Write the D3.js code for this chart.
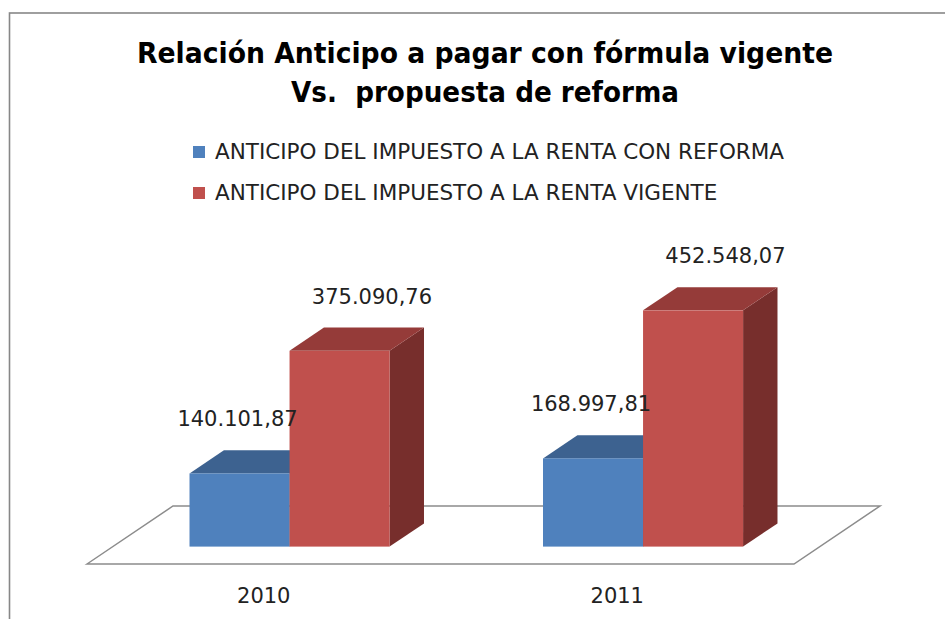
<!DOCTYPE html>
<html>
<head>
<meta charset="utf-8">
<script src="https://cdn.jsdelivr.net/npm/d3@7"></script>
<style>
  body { margin: 0; background: #fff; }
  svg { display: block; }
  text { font-family: "DejaVu Sans", sans-serif; fill: #222; white-space: pre; }
</style>
</head>
<body>
<svg id="chart" width="945" height="619"></svg>
<script>
var years = ["2010", "2011"];
var seriesNames = ["ANTICIPO DEL IMPUESTO A LA RENTA CON REFORMA", "ANTICIPO DEL IMPUESTO A LA RENTA VIGENTE"];
var reforma = [140101.87, 168997.81];
var vigente = [375090.76, 452548.07];
var valueLabels = [["140.101,87", "168.997,81"], ["375.090,76", "452.548,07"]];
var titleLines = ["Relación Anticipo a pagar con fórmula vigente", "Vs.  propuesta de reforma"];

var colors = [
	{front: "#4f81bd", top: "#3d6290", side: "#2f4c70"},
	{front: "#c0504d", top: "#953b39", side: "#772e2c"}
];

var svg = d3.select("#chart");

// chart frame (the right and bottom edges fall outside the window)
svg.append("rect")
	.attr("x", 9.5).attr("y", 13)
	.attr("width", 1000).attr("height", 700)
	.attr("fill", "none")
	.attr("stroke", "#878787")
	.attr("stroke-width", 1.6);

// title
var titleW = [696, 388];
svg.append("g").selectAll("text")
	.data(titleLines)
	.enter().append("text")
	.attr("x", 485)
	.attr("y", function(d, i) { return 63 + i * 39; })
	.attr("text-anchor", "middle")
	.attr("font-family", "'Open Sans', sans-serif")
	.attr("font-weight", "bold")
	.attr("font-size", 28)
	.attr("textLength", function(d, i) { return titleW[i]; })
	.attr("lengthAdjust", "spacingAndGlyphs")
	.style("fill", "#000")
	.text(function(d) { return d; });

// legend
var legend = svg.append("g").selectAll("g")
	.data(seriesNames)
	.enter().append("g")
	.attr("transform", function(d, i) { return "translate(193," + (146 + i * 41) + ")"; });

legend.append("rect")
	.attr("width", 12).attr("height", 12)
	.attr("fill", function(d, i) { return colors[i].front; });

legend.append("text")
	.attr("x", 22)
	.attr("y", 12.5)
	.attr("font-size", 21.5)
	.text(function(d) { return d; });

// pseudo 3d geometry
var floorFront = 564,
	depthDx = 86, depthDy = 58,
	barFront = 0.3, barBack = 0.7;

var x0 = d3.scaleBand()
	.domain(years)
	.range([87, 794])
	.paddingInner(0.434)
	.paddingOuter(0.217);

var x1 = d3.scaleBand()
	.domain([0, 1])
	.range([0, x0.bandwidth()]);

var y = d3.scaleLinear()
	.domain([0, 500000])
	.range([0, 261]);

// floor
var fl = x0.range();
svg.append("path")
	.attr("d", "M" + fl[0] + "," + floorFront +
		"L" + (fl[0] + depthDx) + "," + (floorFront - depthDy) +
		"L" + (fl[1] + depthDx) + "," + (floorFront - depthDy) +
		"L" + fl[1] + "," + floorFront + "Z")
	.attr("fill", "#fff")
	.attr("stroke", "#8c8c8c")
	.attr("stroke-width", 1.5);

var baseY = floorFront - depthDy * barFront,
	shiftX = depthDx * barFront,
	ddx = depthDx * (barBack - barFront),
	ddy = depthDy * (barBack - barFront);

var bars = [];
[reforma, vigente].forEach(function(vals, s) {
	vals.forEach(function(v, k) {
		bars.push({s: s, k: k, value: v, label: valueLabels[s][k]});
	});
});
// draw back to front, left to right
bars.sort(function(a, b) { return (a.k - b.k) || (a.s - b.s); });

var barG = svg.append("g").selectAll("g")
	.data(bars)
	.enter().append("g");

var geom = function(d) {
	var xl = x0(years[d.k]) + x1(d.s) + shiftX,
		xr = xl + x1.bandwidth(),
		yt = baseY - y(d.value);
	return {xl: xl, xr: xr, yt: yt};
};

barG.append("path")
	.attr("d", function(d) {
		var g = geom(d);
		return "M" + g.xr + "," + baseY + "L" + (g.xr + ddx) + "," + (baseY - ddy) +
			"L" + (g.xr + ddx) + "," + (g.yt - ddy) + "L" + g.xr + "," + g.yt + "Z";
	})
	.attr("fill", function(d) { return colors[d.s].side; });

barG.append("path")
	.attr("d", function(d) {
		var g = geom(d);
		return "M" + g.xl + "," + g.yt + "L" + (g.xl + ddx) + "," + (g.yt - ddy) +
			"L" + (g.xr + ddx) + "," + (g.yt - ddy) + "L" + g.xr + "," + g.yt + "Z";
	})
	.attr("fill", function(d) { return colors[d.s].top; });

barG.append("rect")
	.attr("x", function(d) { return geom(d).xl; })
	.attr("y", function(d) { return geom(d).yt; })
	.attr("width", x1.bandwidth())
	.attr("height", function(d) { return y(d.value); })
	.attr("fill", function(d) { return colors[d.s].front; });

// value labels
svg.append("g").selectAll("text")
	.data(bars)
	.enter().append("text")
	.attr("x", function(d) { var g = geom(d); return (g.xl + g.xr) / 2 + d.s * ddx - 2; })
	.attr("y", function(d) { return geom(d).yt - ddy - 24; })
	.attr("text-anchor", "middle")
	.attr("font-size", 21)
	.text(function(d) { return d.label; });

// category labels
svg.append("g").selectAll("text")
	.data(years)
	.enter().append("text")
	.attr("x", function(d) { return x0(d) - x0.step() * 0.217 + x0.step() / 2; })
	.attr("y", 603)
	.attr("text-anchor", "middle")
	.attr("font-size", 21)
	.text(function(d) { return d; });
</script>
</body>
</html>
